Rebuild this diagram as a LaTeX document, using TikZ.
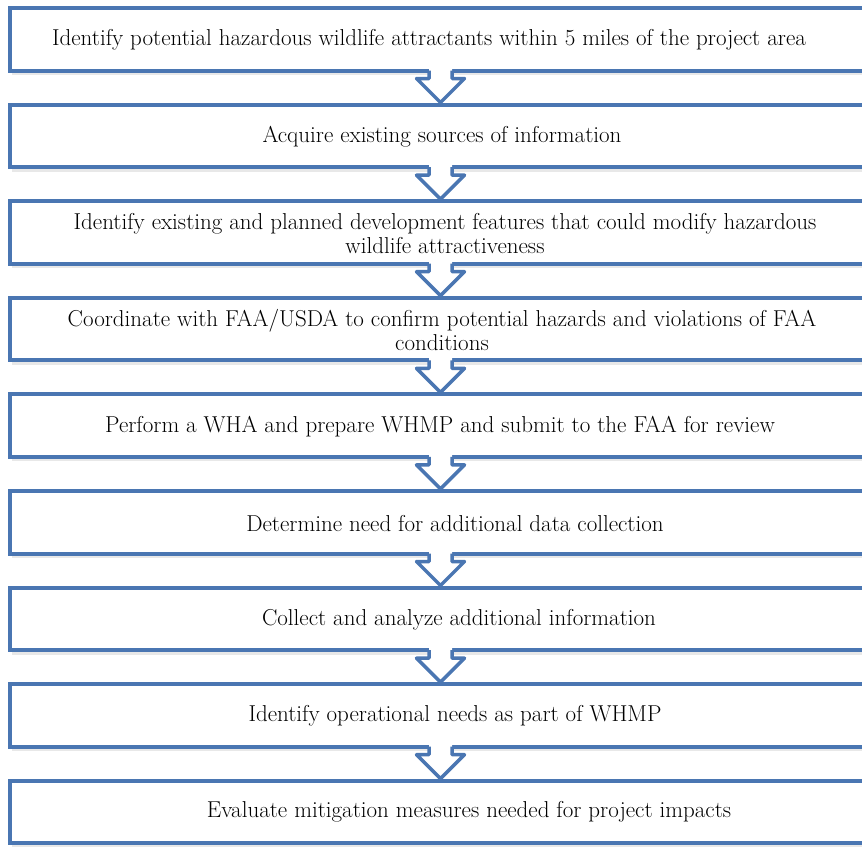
\documentclass[tikz,border=0pt]{standalone}
\usetikzlibrary{calc}
\definecolor{boxblue}{RGB}{74,118,178}
\tikzset{
  stepbox/.style={draw=boxblue, line width=4pt, fill=white, rectangle, inner sep=0pt, outer sep=0pt,
    minimum width=862pt, minimum height=62.5pt},
  steptext/.style={font=\fontsize{23}{24}\selectfont, align=center, inner sep=0pt},
  arrowline/.style={draw=boxblue, line width=3.5pt, line join=round},
  shadowline/.style={draw=black!9, line width=2.5pt}
}
\begin{document}
\begin{tikzpicture}[x=1pt,y=-1pt]
\useasboundingbox (0,0) rectangle (862,846);
\clip (0,0) rectangle (862,846);
\foreach \i in {1,...,9}{
  \pgfmathsetmacro{\yc}{39.25+96.6*(\i-1)}
  \draw[shadowline] (12,\yc+34.5) -- (880,\yc+34.5);
  \node[stepbox] (b\i) at (440.5,\yc) {};
}
\foreach \i in {1,...,8}{
  \fill[white] ($(b\i.south)+(-11.5,-2.5)$) -- ++(0,10.5) -- ++(-12.5,0) -- ++(24,24) -- ++(24,-24) -- ++(-12.5,0) -- ++(0,-10.5) -- cycle;
  \draw[arrowline] ($(b\i.south)+(-11.5,0)$) -- ++(0,8) -- ++(-12.5,0) -- ++(24,24) -- ++(24,-24) -- ++(-12.5,0) -- ++(0,-8);
}
\node[steptext] (t1) at (429,40) {Identify potential hazardous wildlife attractants within 5 miles of the project area};
\node[steptext] (t2) at (442,137) {Acquire existing sources of information};
\node[steptext] (t3) at (445,234) {Identify existing and planned development features that could modify hazardous\\wildlife attractiveness};
\node[steptext] (t4) at (442,330) {Coordinate with FAA/USDA to confirm potential hazards and violations of FAA\\conditions};
\node[steptext] (t5) at (440,427) {Perform a WHA and prepare WHMP and submit to the FAA for review};
\node[steptext] (t6) at (455,524) {Determine need for additional data collection};
\node[steptext] (t7) at (459,620) {Collect and analyze additional information};
\node[steptext] (t8) at (455,716) {Identify operational needs as part of WHMP};
\node[steptext] (t9) at (469,812) {Evaluate mitigation measures needed for project impacts};
\end{tikzpicture}
\end{document}
